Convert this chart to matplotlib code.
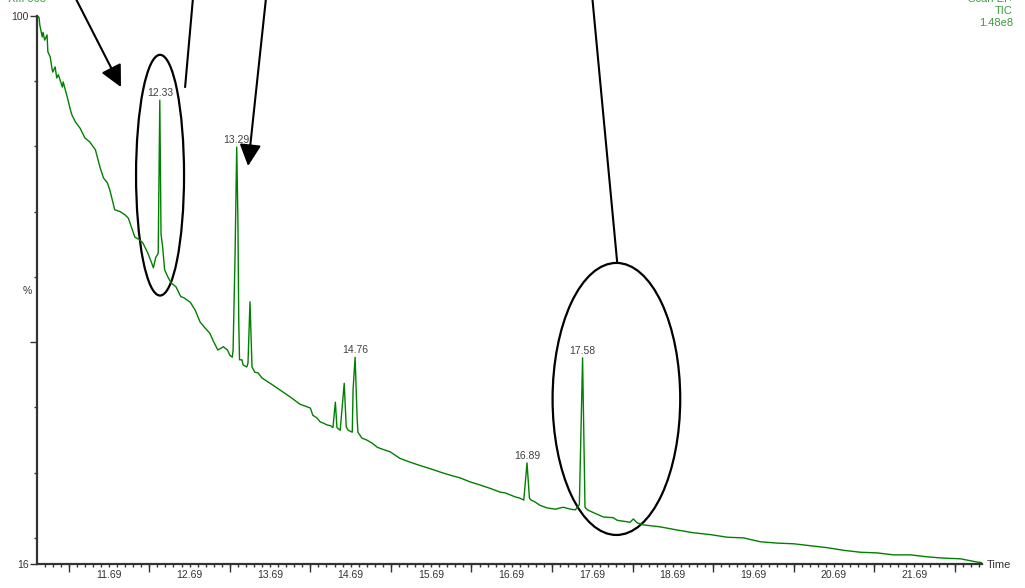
import matplotlib
matplotlib.use("Agg")
import matplotlib.pyplot as plt
from matplotlib.patches import Ellipse
import numpy as np

plt.rcParams['font.family'] = ['Liberation Sans', 'DejaVu Sans']

# ---- data (time in min, relative intensity %) ----
time = [10.80, 10.82, 10.83, 10.86, 10.87, 10.89, 10.92, 10.93, 10.96, 10.98,
        10.99, 11.02, 11.04, 11.06, 11.11, 11.12, 11.17, 11.21, 11.23, 11.27,
        11.33, 11.39, 11.45, 11.52, 11.58, 11.62, 11.67, 11.70, 11.74, 11.76,
        11.83, 11.89, 11.93, 11.98, 12.01, 12.07, 12.11, 12.17, 12.22, 12.24,
        12.27, 12.30, 12.32, 12.335, 12.355, 12.38, 12.42, 12.46, 12.52, 12.58,
        12.62, 12.70, 12.76, 12.82, 12.88, 12.94, 12.98, 13.04, 13.11, 13.16,
        13.19, 13.22, 13.23, 13.255, 13.275, 13.29, 13.30, 13.31, 13.34, 13.355,
        13.40, 13.415, 13.44, 13.465, 13.50, 13.54, 13.59, 13.69, 13.81, 13.94,
        14.06, 14.19, 14.22, 14.27, 14.31, 14.35, 14.40, 14.44, 14.47, 14.50,
        14.52, 14.56, 14.585, 14.61, 14.635, 14.66, 14.71, 14.72, 14.745, 14.77,
        14.78, 14.83, 14.89, 14.96, 15.02, 15.06, 15.18, 15.30, 15.43, 15.55,
        15.68, 15.80, 15.93, 16.05, 16.17, 16.30, 16.42, 16.55, 16.61, 16.67,
        16.73, 16.79, 16.84, 16.88, 16.91, 16.93, 16.98, 17.04, 17.13, 17.23,
        17.33, 17.42, 17.48, 17.53, 17.57, 17.60, 17.63, 17.70, 17.83, 17.95,
        18.00, 18.16, 18.20, 18.25, 18.32, 18.53, 18.75, 18.94, 19.16, 19.37,
        19.57, 19.78, 19.99, 20.19, 20.40, 20.61, 20.81, 21.02, 21.23, 21.43,
        21.64, 21.85, 22.05, 22.26, 22.47, 22.53]
pct = [100.0, 99.8, 98.6, 96.8, 97.5, 96.3, 97.1, 94.5, 93.7, 92.0,
       91.4, 92.2, 90.5, 91.0, 89.1, 89.9, 87.6, 85.6, 84.8, 83.8,
       82.8, 81.3, 80.7, 79.5, 76.7, 75.2, 74.4, 73.3, 71.3, 70.3,
       70.0, 69.5, 69.0, 67.2, 66.1, 65.7, 65.2, 63.7, 62.1, 61.4,
       63.0, 63.6, 87.1, 66.6, 64.6, 61.1, 60.0, 59.1, 58.5, 57.0,
       56.8, 56.1, 54.9, 53.1, 52.2, 51.4, 50.3, 48.8, 49.3, 48.8,
       48.0, 47.7, 48.8, 63.7, 79.9, 68.7, 53.4, 47.3, 47.3, 46.5,
       46.2, 46.8, 56.2, 46.2, 45.4, 45.3, 44.5, 43.7, 42.7, 41.6,
       40.5, 39.9, 38.8, 38.4, 37.8, 37.6, 37.3, 37.2, 36.9, 40.8,
       36.9, 36.5, 40.1, 43.7, 37.0, 36.5, 36.2, 42.7, 47.7, 38.5,
       36.2, 35.3, 35.0, 34.5, 33.9, 33.7, 33.2, 32.2, 31.6, 31.1,
       30.6, 30.1, 29.6, 29.2, 28.6, 28.1, 27.6, 27.0, 26.9, 26.6,
       26.3, 26.1, 25.8, 31.5, 26.1, 25.8, 25.5, 25.0, 24.6, 24.4,
       24.7, 24.4, 24.3, 25.1, 47.6, 24.7, 24.3, 23.9, 23.2, 23.1,
       22.7, 22.4, 22.9, 22.3, 22.0, 21.7, 21.2, 20.8, 20.5, 20.1,
       20.0, 19.4, 19.2, 19.1, 18.8, 18.5, 18.1, 17.8, 17.7, 17.4,
       17.4, 17.1, 16.9, 16.8, 16.3, 16.2]

peak_labels = ['12.33', '13.29', '14.76', '16.89', '17.58']

x_tick_labels = ['11.69', '12.69', '13.69', '14.69', '15.69', '16.69',
                 '17.69', '18.69', '19.69', '20.69', '21.69']
y_tick_labels = ['16', '100']

GREEN = '#008000'
TXT_GREEN = '#3c9c3c'
GRAY = '#333333'
FS = 7.5

fig = plt.figure(figsize=(10.25, 5.88), dpi=100)
ax = fig.add_axes([37/1025, 1-564/588, (982-37)/1025, (564-16)/588])

t = np.array(time)
p = np.array(pct)
ax.plot(t, p, color=GREEN, lw=1.0)

ax.set_xlim(10.795, 22.53)
ax.set_ylim(16, 100)

# peak labels placed at the local maximum near each labelled time
for lab in peak_labels:
    v = float(lab)
    m = np.abs(t - v) <= 0.035
    idx = np.where(m)[0][np.argmax(p[m])]
    ax.annotate(lab, (t[idx], p[idx]), xytext=(0, 1.5), textcoords='offset points',
                ha='center', va='bottom', fontsize=FS, color='#404040')

# axes styling
for s in ['top', 'right']:
    ax.spines[s].set_visible(False)
for s in ['left', 'bottom']:
    ax.spines[s].set_color(GRAY)
    ax.spines[s].set_linewidth(1.6)

xt = [float(v) for v in x_tick_labels]
ax.set_xticks(xt)
ax.set_xticklabels(x_tick_labels)
ax.set_xticks(np.round(np.arange(10.89, 22.50, 0.1), 2), minor=True)
ax.tick_params(axis='x', which='both', direction='out', length=2.5, width=1,
               color=GRAY, labelsize=FS, labelcolor=GRAY, pad=2)

# longer unlabeled ticks half way between labels
sec = ax.secondary_xaxis('bottom')
sec.set_xticks([v - 0.5 for v in xt] + [xt[-1] + 0.5])
sec.tick_params(axis='x', length=5.5, width=1, color=GRAY, labelbottom=False)
sec.spines['bottom'].set_visible(False)

yt = [float(v) for v in y_tick_labels]
ax.set_yticks(yt)
ax.set_yticklabels(y_tick_labels)
ax.set_yticks([20, 30, 40, 60, 70, 80, 90], minor=True)
ax.tick_params(axis='y', which='major', direction='out', length=5, width=1,
               color=GRAY, labelsize=FS, labelcolor=GRAY, pad=1)
ax.tick_params(axis='y', which='minor', direction='out', length=2.5, width=1,
               color=GRAY)
secy = ax.secondary_yaxis('left')
secy.set_yticks([50])
secy.tick_params(axis='y', length=5, width=1, color=GRAY, labelleft=False)
secy.spines['left'].set_visible(False)

fig.text(27/1025, 1-291/588, '%', fontsize=FS, color=GRAY, ha='center', va='center')
fig.text(987/1025, 1-565/588, 'Time', fontsize=8, color=GRAY, ha='left', va='center')

# header texts (partly cut at top edge, as in the original screenshot)
fig.text(8/1025, 1+1.0/588, 'XIII 003', fontsize=8, color=TXT_GREEN, ha='left', va='center')
fig.text(1013/1025, 1+1.0/588, 'Scan EI+', fontsize=8, color=TXT_GREEN, ha='right', va='center')
fig.text(1013/1025, 1-10.5/588, 'TIC', fontsize=8, color=TXT_GREEN, ha='right', va='center')
fig.text(1013/1025, 1-22.5/588, '1.48e8', fontsize=8, color=TXT_GREEN, ha='right', va='center')

# hand-drawn style annotations (ellipses and pointer lines)
ax.add_patch(Ellipse((12.323, 75.6), 0.596, 36.9, fill=False, ec='black', lw=1.6, clip_on=False))
ax.add_patch(Ellipse((17.99, 41.3), 1.585, 41.7, fill=False, ec='black', lw=1.6, clip_on=False))

arrow_kw = dict(arrowstyle='-|>,head_length=1.2,head_width=0.6', color='black',
                lw=1.5, shrinkA=0, shrinkB=0, mutation_scale=11)
ax.annotate('', xy=(11.838, 89.1), xytext=(11.267, 102.9), arrowprops=arrow_kw,
            annotation_clip=False)
ax.annotate('', xy=(13.416, 77.0), xytext=(13.64, 102.9), arrowprops=arrow_kw,
            annotation_clip=False)
ax.annotate('', xy=(12.634, 89.1), xytext=(12.733, 102.9),
            arrowprops=dict(arrowstyle='-', color='black', lw=1.5, shrinkA=0, shrinkB=0),
            annotation_clip=False)
ax.annotate('', xy=(18.00, 62.2), xytext=(17.69, 102.9),
            arrowprops=dict(arrowstyle='-', color='black', lw=1.5, shrinkA=0, shrinkB=0),
            annotation_clip=False)

fig.savefig('out.png', dpi=100)
